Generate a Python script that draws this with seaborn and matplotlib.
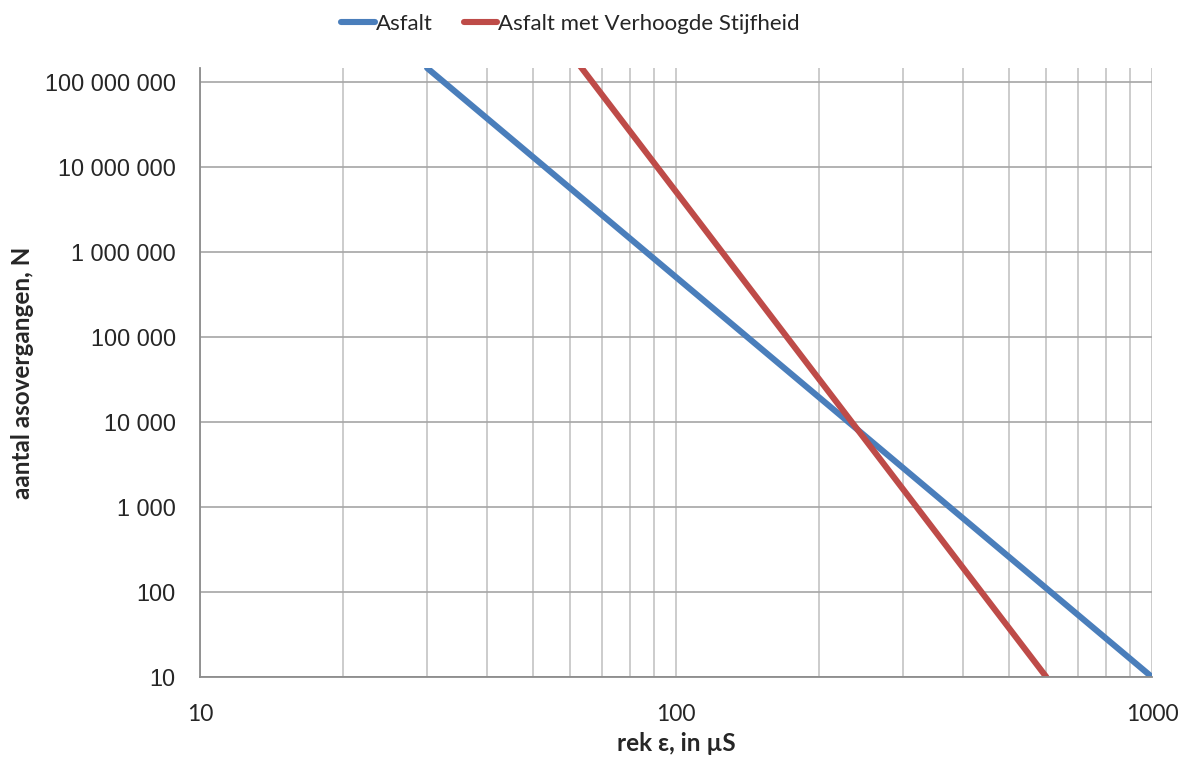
import pandas as pd
import matplotlib
matplotlib.use("Agg")
import matplotlib.pyplot as plt
import seaborn as sns
from matplotlib.ticker import FuncFormatter, FixedLocator, NullFormatter

# Data (straight lines on log-log axes, clipped at the top)
asfalt_x = [30, 1000]
asfalt_y = [1.45e8, 10]
stijf_x = [62, 600]
stijf_y = [1.7e8, 10]
series_names = ["Asfalt", "Asfalt met Verhoogde Stijfheid"]
colors = ["#4a7ebb", "#be4b48"]

x_ticks = [10, 100, 1000]
x_minor = [m * d for d in (10, 100) for m in range(2, 10)]
y_ticks = [10, 100, 1000, 1e4, 1e5, 1e6, 1e7, 1e8]

df = pd.concat([
    pd.DataFrame({"rek": asfalt_x, "N": asfalt_y, "serie": series_names[0]}),
    pd.DataFrame({"rek": stijf_x, "N": stijf_y, "serie": series_names[1]}),
])

sns.set_style("white")
plt.rcParams["font.family"] = ["Lato", "DejaVu Sans"]

fig = plt.figure(figsize=(11.86, 7.62), dpi=100)
ax = fig.add_axes([0.1686, 0.1115, 0.8027, 0.7993])

sns.lineplot(data=df, x="rek", y="N", hue="serie", palette=colors,
             linewidth=4.4, ax=ax, sort=False)

ax.set_xscale("log")
ax.set_yscale("log")
ax.set_xlim(10, 1000)
ax.set_ylim(10, 1.45e8)

ax.xaxis.set_major_locator(FixedLocator(x_ticks))
ax.xaxis.set_minor_locator(FixedLocator(x_minor))
ax.xaxis.set_minor_formatter(NullFormatter())
ax.xaxis.set_major_formatter(FuncFormatter(lambda v, p: f"{v:.0f}"))
ax.yaxis.set_major_locator(FixedLocator(y_ticks))
ax.yaxis.set_minor_locator(plt.NullLocator())
ax.yaxis.set_major_formatter(FuncFormatter(lambda v, p: f"{v:,.0f}".replace(",", " ")))

ax.grid(True, which="major", axis="y", color="#a6a6a6", linewidth=1.2)
ax.grid(True, which="both", axis="x", color="#c4c4c4", linewidth=1.2)
ax.set_axisbelow(True)

for s in ["top", "right"]:
    ax.spines[s].set_visible(False)
for s in ["left", "bottom"]:
    ax.spines[s].set_color("#8c8c8c")
    ax.spines[s].set_linewidth(1.3)

ax.tick_params(axis="y", which="major", direction="out", length=7.5, color="#8c8c8c",
               width=1.2, labelsize=16.8, pad=10)
ax.tick_params(axis="x", which="major", direction="out", length=7.5, color="#8c8c8c",
               width=1.2, labelsize=16.5, pad=12)
ax.tick_params(axis="x", which="minor", length=0, labelbottom=False)
for lbl in ax.get_yticklabels():
    lbl.set_family("Liberation Sans")

ax.set_xlabel("rek ε, in µS", fontsize=17.5, fontweight="bold", labelpad=5)
ax.set_ylabel("aantal asovergangen, N", fontsize=17.5, fontweight="bold")
ax.yaxis.set_label_coords(-0.174, 0.5)

handles, labels = ax.get_legend_handles_labels()
ax.legend_.remove()
fig.legend(handles, labels, loc="center", bbox_to_anchor=(0.481, 0.969), ncol=2,
           frameon=False, fontsize=16, handlelength=1.5, handletextpad=0.05,
           columnspacing=1.4)

fig.savefig("out.png", dpi=100)
